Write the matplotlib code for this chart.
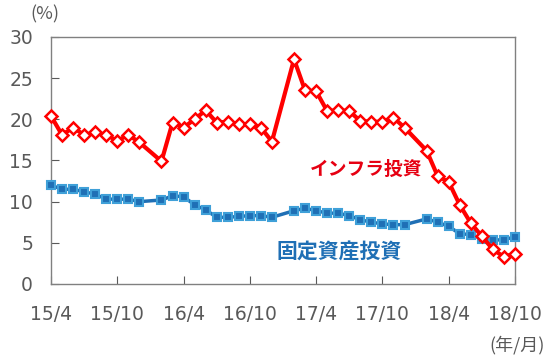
import matplotlib.pyplot as plt

plt.rcParams['font.family'] = ['Noto Sans CJK JP', 'DejaVu Sans']

# Monthly data (Jan figures are not published separately)
months = ["15/4", "15/5", "15/6", "15/7", "15/8", "15/9", "15/10", "15/11", "15/12",
          "16/2", "16/3", "16/4", "16/5", "16/6", "16/7", "16/8", "16/9", "16/10", "16/11", "16/12",
          "17/2", "17/3", "17/4", "17/5", "17/6", "17/7", "17/8", "17/9", "17/10", "17/11", "17/12",
          "18/2", "18/3", "18/4", "18/5", "18/6", "18/7", "18/8", "18/9", "18/10"]
infra = [20.4, 18.1, 19.0, 18.1, 18.4, 18.1, 17.4, 18.1, 17.2,
         14.9, 19.6, 19.0, 20.0, 21.1, 19.6, 19.7, 19.4, 19.4, 19.0, 17.3,
         27.3, 23.5, 23.4, 21.0, 21.1, 21.0, 19.8, 19.7, 19.7, 20.2, 19.0,
         16.2, 13.1, 12.4, 9.6, 7.4, 5.8, 4.2, 3.3, 3.7]
fixed = [12.0, 11.5, 11.5, 11.2, 10.9, 10.3, 10.3, 10.3, 10.0,
         10.2, 10.7, 10.6, 9.6, 9.0, 8.1, 8.1, 8.2, 8.3, 8.3, 8.1,
         8.9, 9.2, 8.9, 8.6, 8.6, 8.3, 7.8, 7.5, 7.3, 7.2, 7.2,
         7.9, 7.5, 7.0, 6.1, 6.0, 5.5, 5.3, 5.4, 5.7]
tick_labels = ["15/4", "15/10", "16/4", "16/10", "17/4", "17/10", "18/4", "18/10"]


def month_index(label):
    y, m = label.split("/")
    return (int(y) - 15) * 12 + int(m) - 4


x = [month_index(m) for m in months]
xticks = [month_index(t) for t in tick_labels]

grey = "#595959"
red = "#FF0000"
blue = "#1F6FB5"

fig = plt.figure(figsize=(5.51, 3.59), dpi=100)
ax = fig.add_axes([0.0926, 0.209, 0.842, 0.688])

ax.plot(x, fixed, color=blue, lw=2.5, marker="s", markersize=5.5,
        markerfacecolor="#1F6FB5", markeredgecolor="#3FA0D8", markeredgewidth=1.5,
        zorder=3, clip_on=False)
ax.plot(x, infra, color=red, lw=3, marker="D", markersize=6.5,
        markerfacecolor="white", markeredgecolor=red, markeredgewidth=1.8,
        zorder=4, clip_on=False)

ax.set_xlim(0, 42)
ax.set_ylim(0, 30)
ax.set_xticks(xticks)
ax.set_xticklabels(tick_labels)
ax.set_yticks(range(0, 31, 5))
ax.tick_params(direction="in", length=6, color=grey, labelcolor=grey, labelsize=13.5)
ax.tick_params(axis="y", pad=13)
ax.tick_params(axis="x", pad=15)
for lbl in ax.get_xticklabels() + ax.get_yticklabels():
    lbl.set_family("DejaVu Sans")
for s in ax.spines.values():
    s.set_color("#808080")
    s.set_linewidth(1)

ax.text(23.4, 13.9, "インフラ投資", color="#E60012", fontsize=13.5,
        fontweight="bold", va="center")
ax.text(20.4, 3.9, "固定資産投資", color=blue, fontsize=15,
        fontweight="bold", va="center")

fig.text(0.055, 0.96, "(%)", color=grey, fontsize=13, ha="left", va="center")
fig.text(0.988, 0.04, "(年/月)", color=grey, fontsize=13, ha="right", va="center")

fig.savefig("out.png", dpi=100)
